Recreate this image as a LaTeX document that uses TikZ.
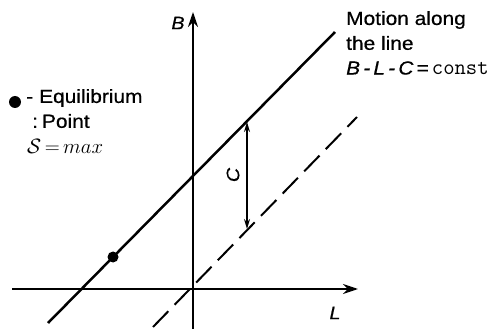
\documentclass[tikz,border=0pt]{standalone}
\usepackage{fontspec}
\usetikzlibrary{arrows.meta}
\newfontfamily\lab[FakeStretch=1.1,FakeBold=0.6]{Liberation Sans}
\begin{document}
\begin{tikzpicture}[x=1pt,y=-1pt,
  axis/.style={line width=1.6pt,-{Stealth[length=15pt,width=10pt]}},
  solidline/.style={line width=2.5pt},
  dashline/.style={line width=2pt,dash pattern=on 22pt off 9pt},
  gap/.style={line width=1.5pt,{Stealth[length=10pt,width=6pt]}-{Stealth[length=10pt,width=6pt]}},
  txt/.style={inner sep=0pt,font=\lab\fontsize{19}{24}\selectfont,align=left},
  itl/.style={inner sep=0pt,font=\lab\itshape\fontsize{18}{20}\selectfont},
  eqdot/.style={circle,fill=black,inner sep=0pt,minimum size=11pt}]
\useasboundingbox (0,0) rectangle (491,329);
% axes
\coordinate (hl) at (12,289);
\coordinate (hr) at (358,289);
\coordinate (vb) at (193,329);
\coordinate (vt) at (193,12);
\draw[axis] (hl) -- (hr);
\draw[axis] (vb) -- (vt);
\node[itl] (Blab) at (178,23) {B};
\node[itl] (Llab) at (335,313) {L};
% lines
\coordinate (s1) at (48,323);
\coordinate (s2) at (335,32);
\draw[solidline] (s1) -- (s2);
\coordinate (d1) at (153,327);
\coordinate (d2) at (357,117);
\draw[dashline] (d1) -- (d2);
% equilibrium point
\node[eqdot] (eq) at (113,257) {};
% C gap
\coordinate (ct) at (247,122);
\coordinate (cb) at (247,229);
\draw[gap] (ct) -- (cb);
\node[itl,rotate=90] (Clab) at (233,175) {C};
% legend
\node[eqdot,minimum size=12pt] (ldot) at (15,102) {};
\node[txt,anchor=west] (eqt) at (26,98) {-\hspace{6pt}Equilibrium};
\node[txt,anchor=west] (pt) at (32,121) {:\hspace{4pt}Point};
\node[inner sep=0pt,anchor=west,font=\fontsize{21}{24}\selectfont] (smax) at (27,146) {$\mathcal{S}\,{=}\,max$};
% motion text
\node[txt,anchor=west] (m1) at (346,20) {Motion along};
\node[txt,anchor=west] (m2) at (346,43) {the line};
\node[txt,anchor=west] (m3) at (346,68) {\itshape B\,-\,L\,-\,C\upshape\,=\,{\fontsize{22}{24}\selectfont\texttt{const}}};
\end{tikzpicture}
\end{document}
